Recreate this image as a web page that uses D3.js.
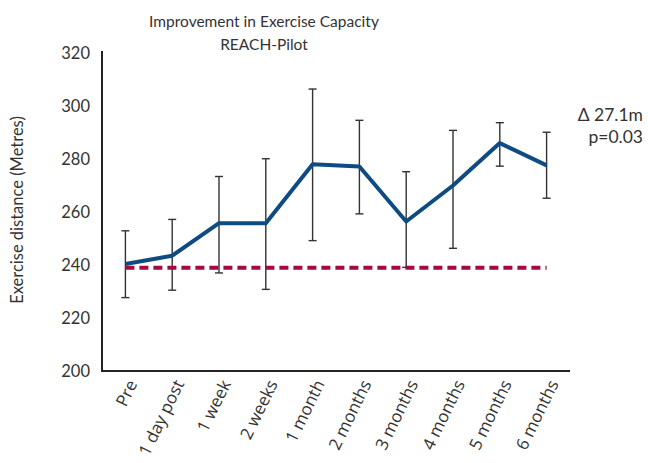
<!DOCTYPE html>
<html>
<head>
<meta charset="utf-8">
<script src="https://cdn.jsdelivr.net/npm/d3@7"></script>
<style>
  html, body { margin: 0; padding: 0; background: #fff; }
  svg { display: block; }
</style>
</head>
<body>
<svg id="chart" width="648" height="463"></svg>
<script>
// Timepoints and mean exercise distance (metres) with error bar limits
const timepoints = ["Pre", "1 day post", "1 week", "2 weeks", "1 month", "2 months", "3 months", "4 months", "5 months", "6 months"];
const meanDistance = [240.4, 243.5, 255.8, 255.8, 278.0, 277.2, 256.4, 270.0, 286.0, 277.6];
const upperLimit = [252.9, 257.2, 273.4, 280.1, 306.4, 294.6, 275.2, 290.8, 293.7, 290.1];
const lowerLimit = [227.7, 230.5, 237.0, 230.8, 249.2, 259.3, 239.1, 246.3, 277.3, 265.2];
const baselineValue = 239.0;
const yTicks = [200, 220, 240, 260, 280, 300, 320];
const titleLines = ["Improvement in Exercise Capacity", "REACH-Pilot"];
const annotationLines = ["\u0394 27.1m", "p=0.03"];

const svg = d3.select("#chart");
const plot = { left: 102, right: 570, top: 53, bottom: 371 };
const textColor = "#333";
const sansFont = "Lato, 'Open Sans', sans-serif";

const x = d3.scaleBand().domain(timepoints).range([plot.left, plot.right]);
const y = d3.scaleLinear().domain([200, 320]).range([plot.bottom, plot.top]);
const cx = d => x(d) + x.bandwidth() / 2;

// Title
svg.append("g").selectAll("text").data(titleLines).join("text")
  .attr("x", 264).attr("y", (d, i) => 27 + i * 23)
  .attr("text-anchor", "middle")
  .attr("font-family", sansFont).attr("font-size", 15.5)
  .attr("fill", textColor)
  .text(d => d);

// Y axis (labels only, with a plain spine)
const yAxis = svg.append("g")
  .attr("transform", `translate(${plot.left},0)`)
  .call(d3.axisLeft(y).tickValues(yTicks).tickSize(0).tickPadding(12).tickFormat(d3.format("d")));
yAxis.select(".domain").attr("stroke", "#222").attr("stroke-width", 2)
  .attr("d", `M0,${plot.top - 2}V${plot.bottom}`);
yAxis.selectAll("text")
  .attr("font-family", sansFont).attr("font-size", 16.5).attr("fill", textColor);

// X axis with rotated category labels
const xAxis = svg.append("g")
  .attr("transform", `translate(0,${plot.bottom})`)
  .call(d3.axisBottom(x).tickSize(0).tickFormat(""));
xAxis.select(".domain").attr("stroke", "#222").attr("stroke-width", 2)
  .attr("d", `M${plot.left - 1},0H${plot.right}`);
svg.append("g").selectAll("text").data(timepoints).join("text")
  .attr("transform", d => `translate(${cx(d) + 7},${plot.bottom + 10}) rotate(-64)`)
  .attr("text-anchor", "end")
  .attr("dy", "0.35em")
  .attr("font-family", "'Open Sans', sans-serif").attr("font-size", 17)
  .attr("fill", textColor)
  .text(d => d);

// Y axis title
svg.append("text")
  .attr("transform", `translate(23,210) rotate(-90)`)
  .attr("text-anchor", "middle")
  .attr("font-family", sansFont).attr("font-size", 16.5)
  .attr("fill", textColor)
  .text("Exercise distance (Metres)");

// Error bars
const bars = svg.append("g").attr("stroke", "#333").attr("stroke-width", 1.4);
timepoints.forEach((t, i) => {
  const px = cx(t);
  bars.append("line").attr("x1", px).attr("x2", px).attr("y1", y(upperLimit[i])).attr("y2", y(lowerLimit[i]));
  [upperLimit[i], lowerLimit[i]].forEach(v => {
    bars.append("line").attr("x1", px - 4).attr("x2", px + 4).attr("y1", y(v)).attr("y2", y(v));
  });
});

// Baseline reference (dashed)
svg.append("line")
  .attr("x1", cx(timepoints[0])).attr("x2", cx(timepoints[timepoints.length - 1]))
  .attr("y1", y(baselineValue)).attr("y2", y(baselineValue))
  .attr("stroke", "#a5093f").attr("stroke-width", 4)
  .attr("stroke-dasharray", "9,5");

// Mean distance line
const line = d3.line().x((d, i) => cx(timepoints[i])).y(d => y(d));
svg.append("path").datum(meanDistance)
  .attr("d", line)
  .attr("fill", "none")
  .attr("stroke", "#0d4b82").attr("stroke-width", 4)
  .attr("stroke-linejoin", "round");

// Change annotation
svg.append("g").selectAll("text").data(annotationLines).join("text")
  .attr("x", 643).attr("y", (d, i) => 121 + i * 22)
  .attr("text-anchor", "end")
  .attr("font-family", sansFont).attr("font-size", 17.5)
  .attr("fill", textColor)
  .text(d => d);
</script>
</body>
</html>
